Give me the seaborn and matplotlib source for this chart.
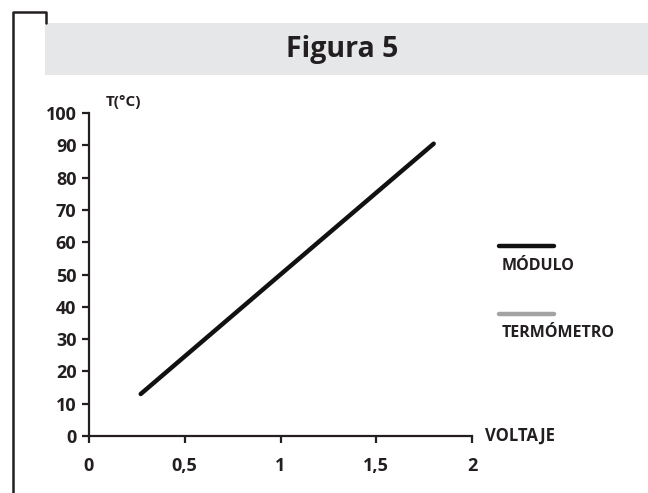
import matplotlib
matplotlib.use("Agg")
import matplotlib.pyplot as plt
import seaborn as sns
import pandas as pd
from matplotlib.lines import Line2D
from matplotlib.patches import Rectangle

# datos
voltaje = [0.27, 1.0, 1.8]
temp_modulo = [13, 50, 90.5]
x_ticks = [0, 0.5, 1, 1.5, 2]
x_labels = ["0", "0,5", "1", "1,5", "2"]
y_ticks = [0, 10, 20, 30, 40, 50, 60, 70, 80, 90, 100]
series = ["MÓDULO", "TERMÓMETRO"]
colores = ["#111111", "#a3a3a3"]

sns.set_style("white")
plt.rcParams['font.family'] = ['Open Sans', 'DejaVu Sans']
txt = "#231f20"

df = pd.DataFrame({"voltaje": voltaje, "temp": temp_modulo})

fig = plt.figure(figsize=(6.48, 4.93), dpi=100)
ax = fig.add_axes([89 / 648, 1 - 436 / 493, 383 / 648, 323 / 493])

sns.lineplot(data=df, x="voltaje", y="temp", color=colores[0], linewidth=3.2, ax=ax)

ax.set_xlim(0, 2)
ax.set_ylim(0, 100)
ax.set_xticks(x_ticks)
ax.set_xticklabels(x_labels)
ax.set_yticks(y_ticks)
ax.set_xlabel("")
ax.set_ylabel("")
for s in ["top", "right"]:
    ax.spines[s].set_visible(False)
for s in ["left", "bottom"]:
    ax.spines[s].set_color(txt)
    ax.spines[s].set_linewidth(1.6)
ax.tick_params(axis="both", direction="out", length=5, width=1.6, color=txt,
               labelsize=13, labelcolor=txt, bottom=True, left=True)
ax.tick_params(axis="x", pad=10)
ax.tick_params(axis="y", pad=4)
for lab in ax.get_xticklabels() + ax.get_yticklabels():
    lab.set_fontweight("bold")

ax.text(0.045, 1.035, "T(°C)", transform=ax.transAxes, fontsize=11,
        fontweight="bold", color=txt, ha="left", va="center")
ax.text(1.035, 0.0, "VOLTAJE", transform=ax.transAxes, fontsize=12,
        fontweight="bold", color=txt, ha="left", va="center")

# marco y banda del titulo
fig.add_artist(Line2D([13 / 648, 13 / 648, 46 / 648, 46 / 648],
                      [0, 1 - 12 / 493, 1 - 12 / 493, 1 - 23 / 493],
                      color="#231f20", linewidth=1.8, transform=fig.transFigure))
fig.add_artist(Rectangle((45 / 648, 1 - 75 / 493), 603 / 648, 52 / 493,
                         facecolor="#e6e7e8", edgecolor="none", transform=fig.transFigure))
fig.text(342 / 648, 1 - 49 / 493, "Figura 5", fontsize=20.5, fontweight="bold",
         color=txt, ha="center", va="center")

# leyenda
for i, (nombre, col) in enumerate(zip(series, colores)):
    y_line = 1 - (246 + 68 * i) / 493
    y_text = 1 - (266 + 67 * i) / 493
    fig.add_artist(Line2D([499 / 648, 554 / 648], [y_line, y_line], color=col,
                          linewidth=3.2, transform=fig.transFigure))
    fig.text(502 / 648, y_text, nombre, fontsize=11.5, fontweight="bold",
             color=txt, ha="left", va="center")

fig.savefig("out.png", dpi=100)
